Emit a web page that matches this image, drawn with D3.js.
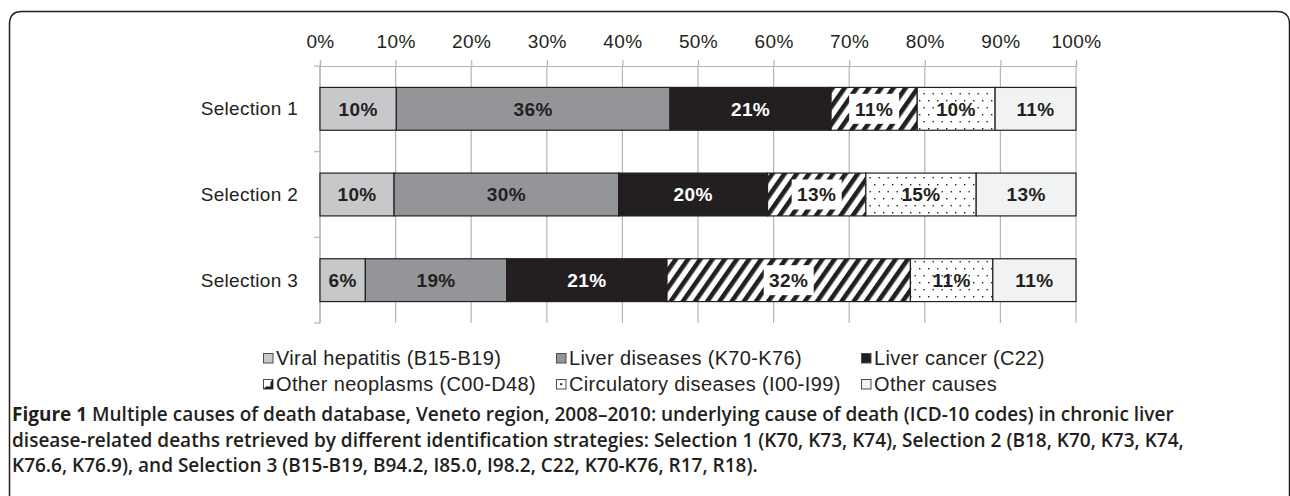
<!DOCTYPE html>
<html>
<head>
<meta charset="utf-8">
<script src="https://cdn.jsdelivr.net/npm/d3@7"></script>
<style>
  html, body { margin: 0; padding: 0; background: #fff; }
  svg { display: block; }
</style>
</head>
<body>
<svg id="chart" width="1290" height="496"></svg>
<script>
// ---- data ----
const categories = ["Selection 1", "Selection 2", "Selection 3"];
const causes = [
  "Viral hepatitis (B15-B19)",
  "Liver diseases (K70-K76)",
  "Liver cancer (C22)",
  "Other neoplasms (C00-D48)",
  "Circulatory diseases (I00-I99)",
  "Other causes"
];
const viralHepatitis   = [10.1,  9.8,  6.0];
const liverDiseases    = [36.2, 29.7, 18.7];
const liverCancer      = [21.3, 19.7, 21.2];
const otherNeoplasms   = [11.4, 13.0, 32.2];
const circulatory      = [10.3, 14.6, 10.9];
const otherCauses      = [10.7, 13.2, 11.0];
const tickValues = [0, 10, 20, 30, 40, 50, 60, 70, 80, 90, 100];
const captionLines = [
  [["Figure 1", 700], [" Multiple causes of death database, Veneto region, 2008\u20132010: underlying cause of death (ICD-10 codes) in chronic liver", 600]],
  [["disease-related deaths retrieved by different identification strategies: Selection 1 (K70, K73, K74), Selection 2 (B18, K70, K73, K74,", 600]],
  [["K76.6, K76.9), and Selection 3 (B15-B19, B94.2, I85.0, I98.2, C22, K70-K76, R17, R18).", 600]]
];

const seriesValues = [viralHepatitis, liverDiseases, liverCancer, otherNeoplasms, circulatory, otherCauses];
const rows = categories.map((c, i) => {
  const r = { category: c };
  causes.forEach((k, j) => r[k] = seriesValues[j][i]);
  return r;
});

// ---- styles ----
const fills = ["#c7c8ca", "#939598", "#231f20", "url(#stripes)", "url(#dots)", "#f1f2f2"];
const labelColors = ["#231f20", "#231f20", "#ffffff", "#231f20", "#231f20", "#231f20"];
const font = "'Liberation Sans', Arial, Helvetica, sans-serif";
const gridColor = "#b4b4b4";

const svg = d3.select("#chart");

// patterns
const defs = svg.append("defs");
const stripes = defs.append("pattern")
  .attr("id", "stripes").attr("patternUnits", "userSpaceOnUse")
  .attr("width", 10).attr("height", 10)
  .attr("patternTransform", "rotate(35)");
stripes.append("rect").attr("width", 10).attr("height", 10).attr("fill", "#fff");
stripes.append("rect").attr("width", 4.6).attr("height", 10).attr("fill", "#231f20");

const dots = defs.append("pattern")
  .attr("id", "dots").attr("patternUnits", "userSpaceOnUse")
  .attr("width", 9).attr("height", 14);
dots.append("rect").attr("width", 9).attr("height", 14).attr("fill", "#fff");
dots.append("rect").attr("x", 1).attr("y", 2).attr("width", 1.4).attr("height", 1.4).attr("fill", "#231f20");
dots.append("rect").attr("x", 5.5).attr("y", 9).attr("width", 1.4).attr("height", 1.4).attr("fill", "#231f20");

// frame
svg.append("path")
  .attr("d", "M9.5,496 V24 Q9.5,11.5 22,11.5 H1277 Q1289.5,11.5 1289.5,24 V496")
  .attr("fill", "none").attr("stroke", "#231f20").attr("stroke-width", 1.5);

// scales
const x = d3.scaleLinear().domain([0, 100]).range([320, 1076]);
const y = d3.scaleBand().domain(categories).range([66, 323]).paddingInner(0.5).paddingOuter(0.25);

// gridlines
svg.append("g").selectAll("line").data(tickValues).join("line")
  .attr("x1", d => x(d)).attr("x2", d => x(d))
  .attr("y1", 66).attr("y2", 323)
  .attr("stroke", gridColor).attr("stroke-width", 1.2);

// top axis
const gTop = svg.append("g").attr("transform", "translate(0,66)")
  .call(d3.axisTop(x).tickValues(tickValues).tickFormat(d => d + "%").tickSize(6).tickPadding(12));
gTop.select(".domain").attr("stroke", gridColor).attr("stroke-width", 1.2);
gTop.selectAll(".tick line").attr("stroke", gridColor).attr("stroke-width", 1.2);
gTop.selectAll(".tick text")
  .attr("font-family", font).attr("font-size", 19).attr("fill", "#231f20")
  .style("letter-spacing", "0.4px");

// left axis: line + boundary ticks
const step = y.step();
const bounds = [0, 1, 2, 3].map(i => 66 + i * step);
svg.append("line").attr("x1", 320).attr("x2", 320).attr("y1", 66).attr("y2", 323)
  .attr("stroke", gridColor).attr("stroke-width", 1.2);
svg.append("g").selectAll("line").data(bounds).join("line")
  .attr("x1", 314).attr("x2", 320).attr("y1", d => d).attr("y2", d => d)
  .attr("stroke", gridColor).attr("stroke-width", 1.2);
svg.append("g").selectAll("text").data(categories).join("text")
  .attr("x", 298).attr("y", d => y(d) + y.bandwidth() / 2)
  .attr("dy", "0.35em").attr("text-anchor", "end")
  .attr("font-family", font).attr("font-size", 19).attr("fill", "#231f20")
  .style("letter-spacing", "0.3px")
  .text(d => d);

// bars
const stacked = d3.stack().keys(causes)(rows);
const layers = svg.append("g").selectAll("g").data(stacked).join("g");
layers.selectAll("rect").data((s, i) => s.map(d => ({ d, i }))).join("rect")
  .attr("x", o => x(o.d[0]))
  .attr("y", o => y(o.d.data.category))
  .attr("width", o => x(o.d[1]) - x(o.d[0]))
  .attr("height", y.bandwidth())
  .attr("fill", o => fills[o.i])
  .attr("stroke", "#231f20").attr("stroke-width", 1.2);

// labels
const labelG = svg.append("g");
stacked.forEach((s, i) => {
  s.forEach(d => {
    const cx = (x(d[0]) + x(d[1])) / 2;
    const cy = y(d.data.category) + y.bandwidth() / 2;
    const txt = Math.round(d[1] - d[0]) + "%";
    if (i === 3) {
      labelG.append("rect")
        .attr("x", cx - 25).attr("y", cy - 15)
        .attr("width", 50).attr("height", 30).attr("fill", "#fff");
    }
    labelG.append("text")
      .attr("x", cx).attr("y", cy).attr("dy", "0.36em")
      .attr("text-anchor", "middle")
      .attr("font-family", font).attr("font-size", 19).attr("font-weight", 700)
      .attr("fill", labelColors[i])
      .style("letter-spacing", "0.4px")
      .text(txt);
  });
});

// legend
const legendX = [263, 556, 861];
const legendY = [358, 384];
const legend = svg.append("g");
causes.forEach((c, i) => {
  const lx = legendX[i % 3], ly = legendY[Math.floor(i / 3)];
  const g = legend.append("g").attr("transform", `translate(${lx},${ly})`);
  let sqFill = fills[i];
  if (i === 3 || i === 4) sqFill = "#fff";
  g.append("rect").attr("x", 0.5).attr("y", -4.5).attr("width", 9.5).attr("height", 9.5)
    .attr("fill", sqFill).attr("stroke", "#4d4d4f").attr("stroke-width", 1);
  if (i === 3) {
    g.append("path").attr("d", "M10,-4.5 V5 H0.5 L3,2.5 H7.5 V-2 Z").attr("fill", "#231f20");
  }
  if (i === 4) {
    g.append("rect").attr("x", 4.2).attr("y", -0.8).attr("width", 2).attr("height", 2).attr("fill", "#231f20");
  }
  g.append("text").attr("x", 13).attr("y", 0).attr("dy", "0.36em")
    .attr("font-family", font).attr("font-size", 20).attr("fill", "#231f20")
    .style("letter-spacing", "0.35px")
    .text(c);
});

// caption
const capY = [421, 447, 472];
captionLines.forEach((line, li) => {
  const t = svg.append("text").attr("x", 12).attr("y", capY[li])
    .attr("font-family", "'Open Sans', 'Noto Sans', sans-serif")
    .attr("font-size", 19).attr("fill", "#231f20");
  line.forEach(([s, w]) => t.append("tspan").attr("font-weight", w).text(s));
});
</script>
</body>
</html>
